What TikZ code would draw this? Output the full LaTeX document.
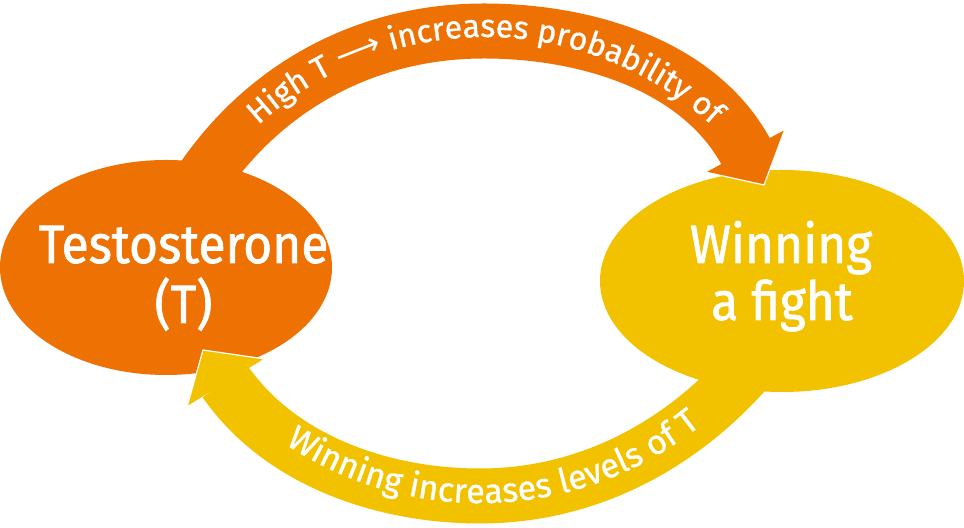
\documentclass[tikz,border=0pt]{standalone}
\usepackage{fontspec}
\setmainfont{Fira Sans}
\newfontfamily\mainlab[FakeStretch=0.92,FakeBold=1.3]{Fira Sans}
\newfontfamily\arcfont[FakeBold=0.9]{Fira Sans}
\newfontfamily\arrowfont{DejaVu Sans}
\newcommand\arcsize{\fontsize{16}{19}\selectfont}
\usetikzlibrary{shapes.geometric,decorations.text}
\definecolor{torange}{RGB}{238,114,3}
\definecolor{tyellow}{RGB}{242,193,0}
\tikzset{
  blob/.style={ellipse, inner sep=0pt, draw=none},
  shaft/.style={line width=27.5pt, line cap=butt},
  headstyle/.style={draw=white, line width=0.6pt, line join=miter},
  bigtext/.style={text=white, font=\mainlab\fontsize{27}{30}\selectfont, anchor=base, inner sep=0pt},
}
\begin{document}
\begin{tikzpicture}[x=0.5pt,y=0.5pt]
\useasboundingbox (0,0) rectangle (964,528);
% ellipses
\node[blob, fill=torange, minimum width=166pt, minimum height=107.5pt] (testo) at (166,260.5) {};
\node[blob, fill=tyellow, minimum width=182pt, minimum height=111pt] (win) at (782,247) {};
% top arrow
\coordinate (ts) at (201,347);
\coordinate (tp) at (484,497);
\coordinate (te) at (746,376);
\coordinate (th1) at (705,356);
\coordinate (th2) at (785,399);
\coordinate (tt) at (764,343);
\filldraw[headstyle, fill=torange] (th1) -- (tt) -- (th2) -- cycle;
\draw[shaft, torange] (ts) .. controls (265,441.5) and (366,497) .. (tp) .. controls (584,497) and (698,464) .. (te);
% bottom arrow
\coordinate (bs) at (757,170);
\coordinate (bp) at (480,32);
\coordinate (be) at (225,146.6);
\coordinate (bh1) at (187,121);
\coordinate (bh2) at (265,169);
\coordinate (bt) at (203,178);
\filldraw[headstyle, fill=tyellow] (bh1) -- (bt) -- (bh2) -- cycle;
\draw[shaft, tyellow] (bs) .. controls (687,85) and (590,32) .. (bp) .. controls (383,32) and (280.4,67) .. (be);
% main labels
\node[bigtext] (t1) at (183.5,265) {Testosterone};
\node[bigtext] (t2) at (183.5,205) {(T)};
\node[bigtext] (w1) at (781,265) {Winning};
\node[bigtext] (w2) at (782,208) {a fight};
% arc labels
\coordinate (tarc) at (194.88,323.5);
\path[decorate, decoration={text along path, text align=center, text color=white,
  text={|\arcfont\arcsize|High T |\arrowfont\arcsize|⟶|\arcfont\arcsize| increases probability of}}]
  (tarc) arc[start angle=150, end angle=30, radius=335];
\coordinate (barc) at (221.5,138.5);
\path[decorate, decoration={text along path, text align=center, text color=white,
  text={|\arcfont\fontsize{17}{20}\selectfont|Winning increases levels of T}}]
  (barc) arc[start angle=222.6, end angle=322.6, radius=351.5];
\end{tikzpicture}
\end{document}
